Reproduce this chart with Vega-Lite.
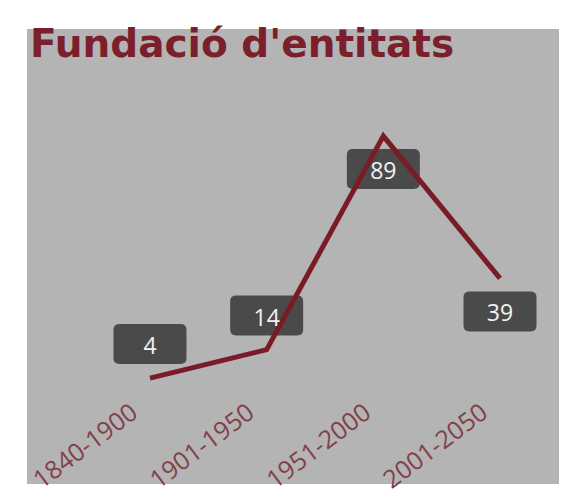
{
  "$schema": "https://vega.github.io/schema/vega-lite/v6.json",
  "autosize": {"type": "none"},
  "padding": {"left": 27, "top": 29, "right": 13, "bottom": 18},
  "width": 532,
  "height": 455,
  "background": "#ffffff",
  "config": {
    "view": {"fill": "#b4b4b4", "stroke": null}
  },
  "title": {
    "text": "Fundació d'entitats",
    "font": "DejaVu Sans",
    "fontWeight": "bold",
    "fontSize": 39,
    "color": "#7a1f2b",
    "anchor": "start",
    "frame": "group",
    "orient": "top",
    "baseline": "alphabetic",
    "offset": -28,
    "dy": 39,
    "dx": 3
  },
  "data": {
    "values": [
      {"period": "1840-1900", "count": 4},
      {"period": "1901-1950", "count": 14},
      {"period": "1951-2000", "count": 89},
      {"period": "2001-2050", "count": 39}
    ]
  },
  "encoding": {
    "x": {
      "field": "period",
      "type": "ordinal",
      "sort": null,
      "scale": {"type": "point", "range": [123, 473], "padding": 0},
      "axis": {
        "title": null,
        "domain": false,
        "ticks": false,
        "grid": false,
        "labelAngle": -37,
        "labelAlign": "right",
        "labelBaseline": "middle",
        "labelPadding": 0,
        "labelOffset": -16,
        "offset": -75,
        "labelFont": "Open Sans",
        "labelFontSize": 25,
        "labelColor": "#82404a",
        "labelOverlap": false,
        "labelBound": false,
        "labelFlush": false
      }
    },
    "y": {
      "field": "count",
      "type": "quantitative",
      "scale": {"domain": [-33.2, 126.6], "nice": false, "zero": false},
      "axis": null
    }
  },
  "layer": [
    {
      "transform": [{"filter": {"field": "period", "oneOf": ["1840-1900", "1901-1950"]}}],
      "mark": {
        "type": "point",
        "filled": true,
        "fill": "#4a4a4a",
        "opacity": 1,
        "strokeWidth": 0,
        "size": 5329,
        "shape": "M -0.836 -1.48 L 0.836 -1.48 Q 1 -1.48 1 -1.316 L 1 -0.548 Q 1 -0.384 0.836 -0.384 L -0.836 -0.384 Q -1 -0.384 -1 -0.548 L -1 -1.316 Q -1 -1.48 -0.836 -1.48 Z"
      }
    },
    {
      "transform": [{"filter": {"field": "period", "oneOf": ["1951-2000", "2001-2050"]}}],
      "mark": {
        "type": "point",
        "filled": true,
        "fill": "#4a4a4a",
        "opacity": 1,
        "strokeWidth": 0,
        "size": 5329,
        "shape": "M -0.836 0.356 L 0.836 0.356 Q 1 0.356 1 0.52 L 1 1.288 Q 1 1.452 0.836 1.452 L -0.836 1.452 Q -1 1.452 -1 1.288 L -1 0.52 Q -1 0.356 -0.836 0.356 Z"
      }
    },
    {
      "mark": {"type": "line", "color": "#7a1c28", "strokeWidth": 5}
    },
    {
      "transform": [{"filter": {"field": "period", "oneOf": ["1840-1900", "1901-1950"]}}],
      "mark": {
        "type": "text",
        "font": "Open Sans",
        "fontSize": 23,
        "color": "#f2f2f2",
        "baseline": "middle",
        "align": "center",
        "dy": -31
      },
      "encoding": {"text": {"field": "count", "type": "quantitative"}}
    },
    {
      "transform": [{"filter": {"field": "period", "oneOf": ["1951-2000", "2001-2050"]}}],
      "mark": {
        "type": "text",
        "font": "Open Sans",
        "fontSize": 23,
        "color": "#f2f2f2",
        "baseline": "middle",
        "align": "center",
        "dy": 36
      },
      "encoding": {"text": {"field": "count", "type": "quantitative"}}
    }
  ]
}
